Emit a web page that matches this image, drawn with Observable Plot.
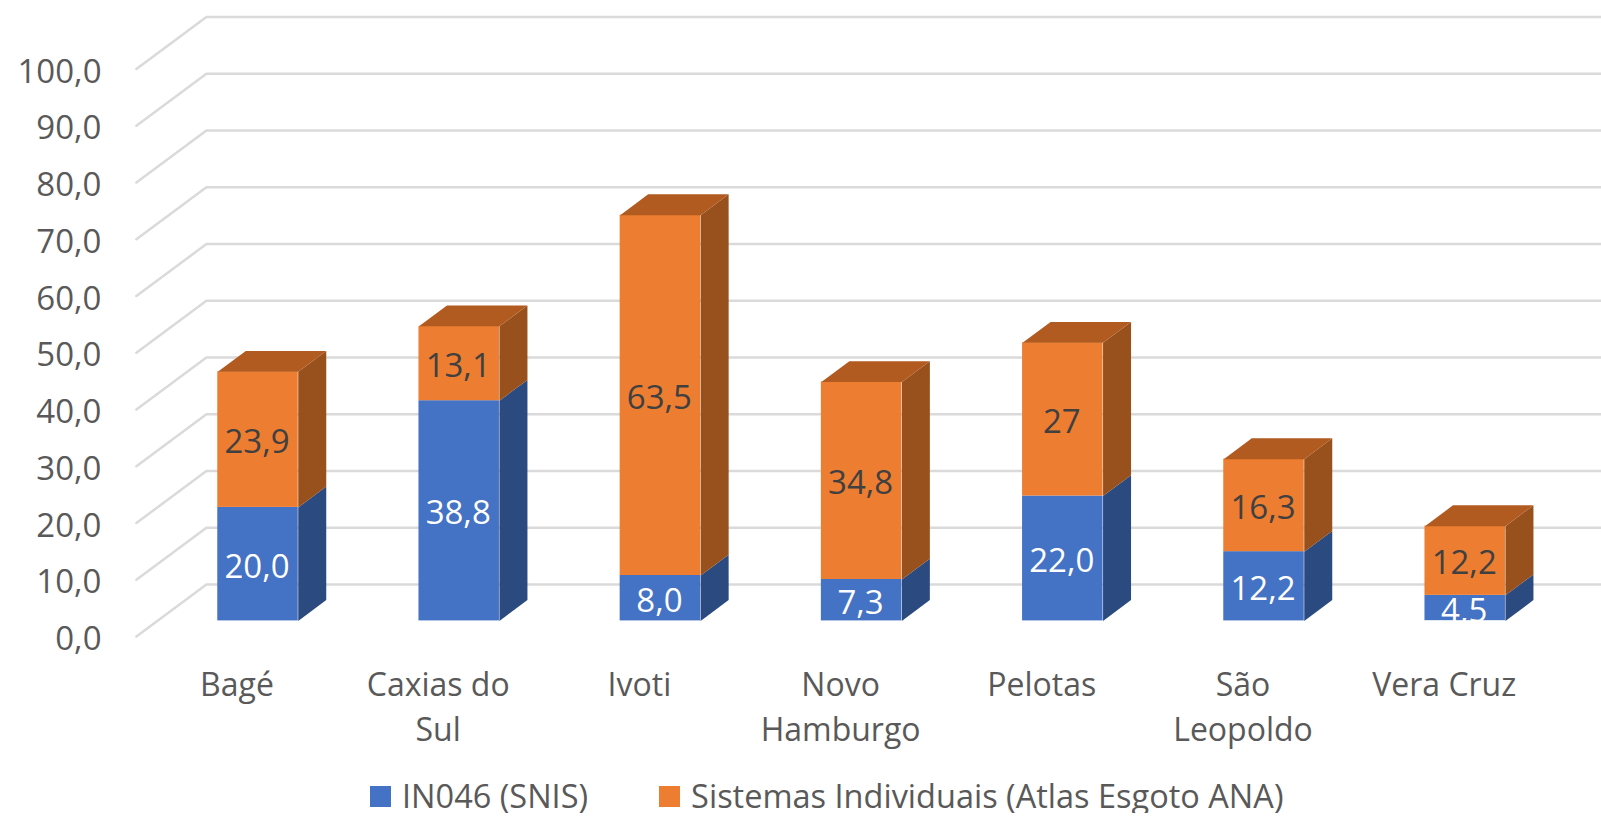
<!DOCTYPE html>
<html>
<head>
<meta charset="utf-8">
<script src="https://cdn.jsdelivr.net/npm/d3@7"></script>
<script src="https://cdn.jsdelivr.net/npm/@observablehq/plot@0.6"></script>
<style>
html,body{margin:0;padding:0;background:#fff;overflow:hidden}
#legend{display:flex;align-items:center;height:34px;margin-top:-6px;padding-left:370px;font-family:"Open Sans",sans-serif;font-size:32.5px;line-height:1;color:#595959;white-space:nowrap}
#legend i{display:inline-block;width:21px;height:21px;margin-right:11px}
#legend span{margin-right:71px}
</style>
</head>
<body>
<div id="chart"></div>
<div id="legend"></div>
<script>
const categories = ["Bagé","Caxias do\nSul","Ivoti","Novo\nHamburgo","Pelotas","São\nLeopoldo","Vera Cruz"];
const snis = [20.0,38.8,8.0,7.3,22.0,12.2,4.5];
const atlas = [23.9,13.1,63.5,34.8,27,16.3,12.2];
const gridValues = [0,10,20,30,40,50,60,70,80,90,100];
const seriesNames = ["IN046 (SNIS)","Sistemas Individuais (Atlas Esgoto ANA)"];

// oblique projection: depth 0..1 in axis units
const depthX = 0.348, depthY = 9.16, zFront = 0.30, zBack = 0.70, barW = 0.40;
const px = (x, z) => x + z * depthX;
const py = (v, z) => v + z * depthY;

const colors = {
  blue:"#4472C4", blueSide:"#2B4B80",
  orange:"#ED7D31", orangeSide:"#98501C", orangeTop:"#B15B21"
};

const grid = gridValues.flatMap(v => [
  {v, x:0, y:v}, {v, x:depthX, y:py(v,1)}, {v, x:8, y:py(v,1)}
]);

const fronts = [], faces = [], labels = [];
const poly = (id, fill, pts) => pts.forEach(([x,y]) => faces.push({id, fill, x, y}));
categories.forEach((c,i) => {
  const L = i + .5 - barW/2, R = i + .5 + barW/2, C = i + .5;
  const a = snis[i], b = a + atlas[i];
  fronts.push({x1:px(L,zFront), x2:px(R,zFront), y1:py(0,zFront), y2:py(a,zFront), fill:colors.blue});
  fronts.push({x1:px(L,zFront), x2:px(R,zFront), y1:py(a,zFront), y2:py(b,zFront), fill:colors.orange});
  poly(`s${i}`, colors.blueSide, [[px(R,zFront),py(0,zFront)],[px(R,zBack),py(0,zBack)],[px(R,zBack),py(a,zBack)],[px(R,zFront),py(a,zFront)]]);
  poly(`o${i}`, colors.orangeSide, [[px(R,zFront),py(a,zFront)],[px(R,zBack),py(a,zBack)],[px(R,zBack),py(b,zBack)],[px(R,zFront),py(b,zFront)]]);
  poly(`t${i}`, colors.orangeTop, [[px(L,zFront),py(b,zFront)],[px(L,zBack),py(b,zBack)],[px(R,zBack),py(b,zBack)],[px(R,zFront),py(b,zFront)]]);
  labels.push({x:px(C,zFront), y:py(a/2,zFront), t:a.toFixed(1).replace(".",","), c:"#fff"});
  labels.push({x:px(C,zFront), y:py(a+atlas[i]/2,zFront), t:String(atlas[i]).replace(".",","), c:"#404040"});
});
const chart = Plot.plot({
  width:1601, height:785,
  marginLeft:103, marginRight:0, marginTop:0, marginBottom:0,
  x:{type:"linear", domain:[0,7], range:[135.9,1544.3], axis:null},
  y:{type:"linear", domain:[0,100], range:[636,68.5], axis:null},
  color:{type:"identity"},
  style:{background:"#fff", fontFamily:'"Open Sans",sans-serif'},
  marks:[
    Plot.line(grid,{x:"x",y:"y",z:"v",stroke:"#DADADA",strokeWidth:2.5}),
    Plot.rect(fronts,{x1:"x1",x2:"x2",y1:"y1",y2:"y2",fill:"fill",inset:0}),
    Plot.line(faces,{x:"x",y:"y",z:"id",fill:"fill",stroke:"none"}),
    Plot.text(labels,{x:"x",y:"y",text:"t",fill:"c",fontSize:33,dy:3,dx:-1}),
    // the last small label is cut off at the foot of its bar
    Plot.rect([0],{x1:px(6.5-barW/2,zFront),x2:px(6.5+barW/2,zFront),y1:py(0,zFront),y2:py(-2,zFront),fill:"#fff",inset:0}),
    Plot.axisY({ticks:gridValues,tickSize:0,tickPadding:2,dy:3,tickFormat:d=>d.toFixed(1).replace(".",","),fontSize:33,fill:"#595959",label:null,anchor:"left"}),
    Plot.text(categories,{x:(d,i)=>i+.5,y:0,dy:27,text:d=>d,lineAnchor:"top",lineHeight:1.41,fontSize:32,fill:"#595959"})
  ]
});
document.getElementById("chart").appendChild(chart);
chart.style.display="block";
const lg = document.getElementById("legend");
lg.innerHTML = `<i style="background:${colors.blue}"></i><span>${seriesNames[0]}</span><i style="background:${colors.orange}"></i><span style="margin:0">${seriesNames[1]}</span>`;
</script>
</body>
</html>
